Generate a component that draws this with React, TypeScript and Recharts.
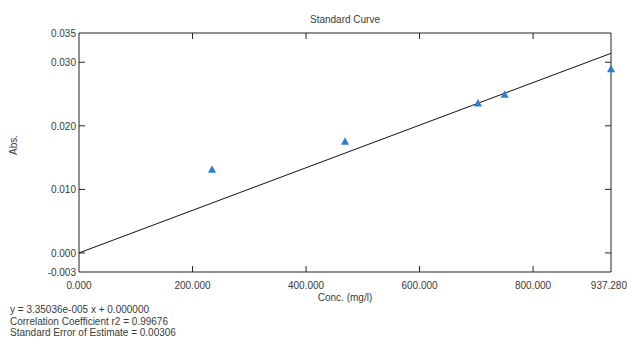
import React from 'react';
import { ComposedChart, Scatter, Line, XAxis, YAxis, ReferenceLine } from 'recharts';

// standard points
const concValues = [234.32, 468.64, 702.96, 749.82, 937.28];
const absValues = [0.0131, 0.0175, 0.0235, 0.0249, 0.0289];

// fitted line end points
const fitConc = [0, 937.28];
const fitAbs = [0, 0.0314];

const xTicks = [0, 200, 400, 600, 800, 937.28];
const yTicks = [-0.003, 0, 0.01, 0.02, 0.03, 0.0346];

const equationLines = [
  'y = 3.35036e-005 x + 0.000000',
  'Correlation Coefficient r2 = 0.99676',
  'Standard Error of Estimate = 0.00306',
];

const points = concValues.map((x, i) => ({ x, y: absValues[i] }));
const fitData = fitConc.map((x, i) => ({ x, y: fitAbs[i] }));

const FONT = 'Liberation Sans, Arial, sans-serif';
const TEXT = '#3a3a3a';
const AXIS = '#222';

const PLOT_TOP = 33;
const PLOT_BOTTOM = 272;
const PLOT_LEFT = 79;
const PLOT_RIGHT = 611;

const XTick = ({ x, y, payload }: any) => {
  const v = payload.value;
  const inner = v > 0 && v < 900;
  const last = v > 900;
  return (
    <g>
      {inner && <line x1={x} x2={x} y1={PLOT_BOTTOM} y2={PLOT_BOTTOM - 6} stroke={AXIS} />}
      {inner && <line x1={x} x2={x} y1={PLOT_TOP} y2={PLOT_TOP + 6} stroke={AXIS} />}
      <text
        x={last ? 627 : x}
        y={y + 17}
        textAnchor={last ? 'end' : 'middle'}
        fontSize={10}
        fontFamily={FONT}
        fill={TEXT}
      >
        {v.toFixed(3)}
      </text>
    </g>
  );
};

const YTick = ({ x, y, payload }: any) => {
  const v = payload.value;
  const inner = v >= 0 && v < 0.034;
  return (
    <g>
      {inner && <line x1={PLOT_LEFT} x2={PLOT_LEFT + 6} y1={y} y2={y} stroke={AXIS} />}
      {inner && <line x1={PLOT_RIGHT} x2={PLOT_RIGHT - 6} y1={y} y2={y} stroke={AXIS} />}
      <text x={PLOT_LEFT - 3} y={y + 4} textAnchor="end" fontSize={10} fontFamily={FONT} fill={TEXT}>
        {v.toFixed(3)}
      </text>
    </g>
  );
};

const Triangle = ({ cx, cy }: any) => (
  <polygon
    points={`${cx},${cy - 4.5} ${cx - 4},${cy + 3} ${cx + 4},${cy + 3}`}
    fill="#2a7fd4"
  />
);

export default function App() {
  return (
    <div style={{ position: 'absolute', left: 0, top: 0, width: 627, height: 339, background: '#fff' }}>
      <ComposedChart
        width={627}
        height={339}
        margin={{ top: PLOT_TOP, right: 627 - PLOT_RIGHT, bottom: 0, left: 0 }}
      >
        <XAxis
          type="number"
          dataKey="x"
          domain={[0, 937.28]}
          ticks={xTicks}
          height={339 - PLOT_BOTTOM}
          tickSize={0}
          tickMargin={0}
          tick={<XTick />}
          stroke={AXIS}
          interval={0}
        />
        <YAxis
          type="number"
          dataKey="y"
          domain={[-0.003, 0.0346]}
          ticks={yTicks}
          width={PLOT_LEFT}
          tickSize={0}
          tickMargin={0}
          tick={<YTick />}
          stroke={AXIS}
          interval={0}
          allowDataOverflow
        />
        <ReferenceLine y={0.0346} stroke={AXIS} ifOverflow="visible" />
        <ReferenceLine x={937.28} stroke={AXIS} ifOverflow="visible" />
        <Line
          data={fitData}
          dataKey="y"
          stroke="#111"
          strokeWidth={1}
          dot={false}
          activeDot={false}
          isAnimationActive={false}
        />
        <Scatter data={points} dataKey="y" shape={<Triangle />} isAnimationActive={false} />
      </ComposedChart>
      <div style={{ position: 'absolute', left: 0, top: 0, width: 627, height: 339, pointerEvents: 'none', fontFamily: FONT, color: TEXT, fontSize: 10 }}>
        <div style={{ position: 'absolute', left: 0, width: 690, top: 14, textAlign: 'center' }}>Standard Curve</div>
        <div style={{ position: 'absolute', left: 0, width: 690, top: 292, textAlign: 'center' }}>Conc. (mg/l)</div>
        <div style={{ position: 'absolute', left: 13, top: 145, transform: 'translate(-50%, -50%) rotate(-90deg)' }}>Abs.</div>
        {equationLines.map((t, i) => (
          <div key={i} style={{ position: 'absolute', left: 10, top: 304 + i * 11.5, lineHeight: '12px', whiteSpace: 'nowrap' }}>
            {t}
          </div>
        ))}
      </div>
    </div>
  );
}
